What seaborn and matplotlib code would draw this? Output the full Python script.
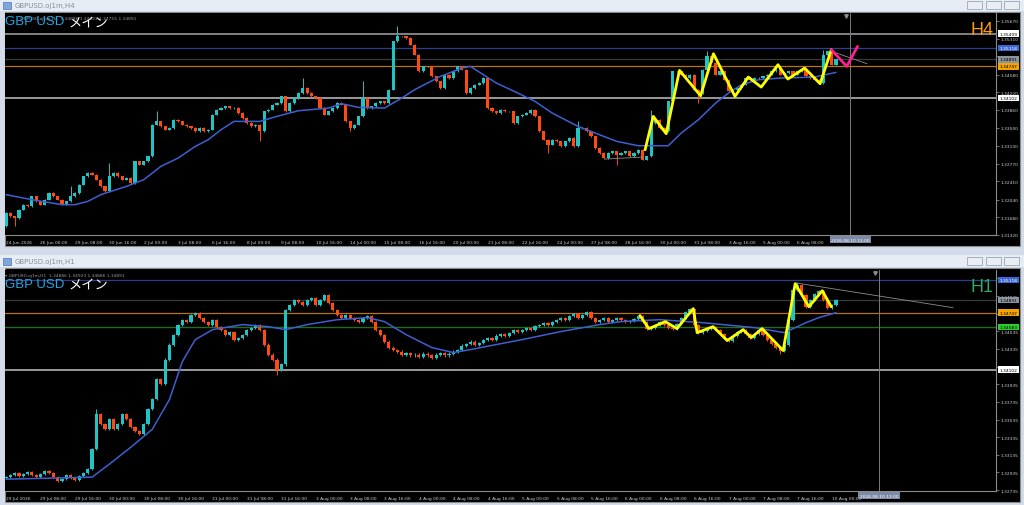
import matplotlib
matplotlib.use("Agg")
import matplotlib.pyplot as plt
import matplotlib.transforms as mtransforms
from matplotlib.patches import Rectangle
import numpy as np
import seaborn as sns

# ---------------- data: H4 panel ----------------
h4_first_open = 1.31495
h4_close = [
    1.31766, 1.31699, 1.31665, 1.31834, 1.31936, 1.31902, 1.32105, 1.32003, 1.31936, 1.32037,
    1.32173, 1.32105, 1.32037, 1.31936, 1.32003, 1.32105, 1.32173, 1.32342, 1.32511, 1.32579,
    1.32545, 1.32443, 1.32308, 1.32206, 1.32511, 1.32579, 1.32511, 1.32443, 1.32477, 1.32376,
    1.32816, 1.32748, 1.32816, 1.32917, 1.33560, 1.33628, 1.33527, 1.33459, 1.33493, 1.33662,
    1.33628, 1.33560, 1.33527, 1.33493, 1.33425, 1.33493, 1.33425, 1.33459, 1.33764, 1.33865,
    1.33899, 1.33933, 1.33899, 1.33899, 1.33797, 1.33696, 1.33594, 1.33527, 1.33560, 1.33425,
    1.33831, 1.33865, 1.33967, 1.34000, 1.34136, 1.33831, 1.34000, 1.34102, 1.34204, 1.34305,
    1.34204, 1.34136, 1.34102, 1.33899, 1.33764, 1.33831, 1.33899, 1.34000, 1.33967, 1.33628,
    1.33493, 1.33560, 1.33730, 1.34102, 1.33899, 1.33933, 1.34000, 1.34034, 1.34000, 1.34271,
    1.35253, 1.35354, 1.35354, 1.35321, 1.35185, 1.34982, 1.34644, 1.34745, 1.34745, 1.34542,
    1.34440, 1.34305, 1.34576, 1.34508, 1.34644, 1.34745, 1.34677, 1.34204, 1.34305, 1.34373,
    1.34407, 1.34508, 1.33899, 1.33831, 1.33797, 1.33865, 1.33831, 1.33831, 1.33594, 1.33730,
    1.33764, 1.33797, 1.33865, 1.33730, 1.33425, 1.33256, 1.33154, 1.33256, 1.33222, 1.33120,
    1.33222, 1.33290, 1.33120, 1.33493, 1.33493, 1.33425, 1.33323, 1.33086, 1.32985, 1.32883,
    1.32985, 1.33019, 1.32951, 1.32985, 1.33019, 1.32917, 1.32985, 1.33053, 1.32850, 1.32917,
    1.33594, 1.33662, 1.33493, 1.33425, 1.34034, 1.34644, 1.34644, 1.34576, 1.34508, 1.34576,
    1.34271, 1.34204, 1.34677, 1.34948, 1.34813, 1.34576, 1.34644, 1.34474, 1.34237, 1.34271,
    1.34305, 1.34373, 1.34508, 1.34474, 1.34508, 1.34508, 1.34542, 1.34576, 1.34644, 1.34711,
    1.34576, 1.34610, 1.34644, 1.34576, 1.34644, 1.34677, 1.34542, 1.34508, 1.34474, 1.34407,
    1.34982, 1.35050, 1.34779, 1.34891,
]
h4_high = {15: 1.32308, 24: 1.32782, 35: 1.33831, 69: 1.34508, 83: 1.34440, 91: 1.35558,
           133: 1.33628, 150: 1.33865, 163: 1.35050, 190: 1.35084}
h4_low = {0: 1.31495, 2: 1.31495, 59: 1.33222, 80: 1.33425, 126: 1.32985, 142: 1.32748, 161: 1.34000}

h4_ma_x = [0, 6, 13, 16, 19, 22, 28, 32, 36, 40, 44, 47, 50, 53, 59, 63, 68, 75, 78, 82, 88, 92, 95,
           98, 101, 102, 106, 108, 114, 119, 123, 127, 133, 137, 142, 147, 154, 157, 161, 165, 168,
           171, 175, 180, 188, 193]
h4_ma_y = [1.32139, 1.32037, 1.31936, 1.31936, 1.32003, 1.32139, 1.32308, 1.32443, 1.32714, 1.32883,
           1.33120, 1.33256, 1.33459, 1.33628, 1.33628, 1.33730, 1.33845, 1.33899, 1.33987, 1.33912,
           1.33899, 1.34102, 1.34271, 1.34407, 1.34542, 1.34576, 1.34711, 1.34745, 1.34407, 1.34204,
           1.34034, 1.33797, 1.33527, 1.33391, 1.33222, 1.33134, 1.33134, 1.33391, 1.33662, 1.34000,
           1.34204, 1.34373, 1.34474, 1.34508, 1.34529, 1.34623]

h4_zig_x = [148.6, 150.5, 153.5, 156.6, 161.5, 164.5, 169.5, 172.6, 175.6, 179.5, 181.8, 185.7, 189.3, 191.9]
h4_zig_y = [1.33053, 1.33730, 1.33378, 1.34664, 1.34149, 1.35002, 1.34136, 1.34529, 1.34325, 1.34779,
            1.34488, 1.34711, 1.34393, 1.35084]
h4_pink_x = [191.9, 195.5, 198.0]
h4_pink_y = [1.35084, 1.34745, 1.35151]
h4_trend = [([192.0, 200.2], [1.35050, 1.34799]), ([139.3, 148.2], [1.32863, 1.32904])]

h4_levels = [1.35409, 1.35118, 1.34891, 1.34747, 1.34102]
h4_yticks = [1.31320, 1.31680, 1.32040, 1.32410, 1.32770, 1.33130, 1.33500, 1.33860, 1.34220,
             1.34580, 1.34950, 1.35310, 1.35670]
h4_xlabels = ["24 Jun 2026", "26 Jun 00:00", "29 Jun 08:00", "30 Jun 16:00", "2 Jul 00:00",
              "3 Jul 08:00", "6 Jul 16:00", "8 Jul 00:00", "9 Jul 08:00", "10 Jul 16:00",
              "14 Jul 00:00", "15 Jul 08:00", "16 Jul 16:00", "20 Jul 00:00", "21 Jul 08:00",
              "22 Jul 16:00", "24 Jul 00:00", "27 Jul 08:00", "28 Jul 16:00", "30 Jul 00:00",
              "31 Jul 08:00", "3 Aug 16:00", "5 Aug 00:00", "6 Aug 08:00"]

# ---------------- data: H1 panel ----------------
h1_first_open = 1.32871
h1_close = [
    1.32882, 1.32905, 1.32927, 1.32893, 1.32916, 1.32938, 1.32905, 1.32882, 1.32916, 1.32950,
    1.32927, 1.32882, 1.32837, 1.32859, 1.32905, 1.32871, 1.32848, 1.32893, 1.32927, 1.32972,
    1.33198, 1.33594, 1.33481, 1.33424, 1.33537, 1.33424, 1.33481, 1.33594, 1.33537, 1.33447,
    1.33402, 1.33368, 1.33481, 1.33650, 1.33763, 1.33989, 1.33933, 1.34215, 1.34385, 1.34498,
    1.34611, 1.34667, 1.34645, 1.34724, 1.34746, 1.34690, 1.34645, 1.34611, 1.34667, 1.34588,
    1.34554, 1.34498, 1.34532, 1.34441, 1.34464, 1.34498, 1.34554, 1.34577, 1.34611, 1.34554,
    1.34385, 1.34272, 1.34215, 1.34102, 1.34159, 1.34780, 1.34837, 1.34893, 1.34871, 1.34837,
    1.34893, 1.34916, 1.34837, 1.34893, 1.34950, 1.34859, 1.34780, 1.34724, 1.34690, 1.34724,
    1.34690, 1.34667, 1.34645, 1.34690, 1.34713, 1.34645, 1.34554, 1.34498, 1.34419, 1.34351,
    1.34328, 1.34306, 1.34272, 1.34294, 1.34261, 1.34272, 1.34249, 1.34283, 1.34261, 1.34238,
    1.34272, 1.34294, 1.34261, 1.34283, 1.34306, 1.34328, 1.34374, 1.34396, 1.34419, 1.34385,
    1.34407, 1.34441, 1.34464, 1.34441, 1.34487, 1.34509, 1.34487, 1.34520, 1.34554, 1.34532,
    1.34554, 1.34577, 1.34554, 1.34600, 1.34611, 1.34633, 1.34611, 1.34645, 1.34667, 1.34690,
    1.34667, 1.34713, 1.34735, 1.34690, 1.34724, 1.34758, 1.34690, 1.34645, 1.34667, 1.34690,
    1.34645, 1.34667, 1.34690, 1.34667, 1.34645, 1.34656, 1.34679, 1.34713, 1.34645, 1.34566,
    1.34577, 1.34611, 1.34645, 1.34611, 1.34577, 1.34566, 1.34622, 1.34690, 1.34758, 1.34792,
    1.34611, 1.34520, 1.34543, 1.34566, 1.34588, 1.34554, 1.34509, 1.34464, 1.34430, 1.34487,
    1.34532, 1.34554, 1.34509, 1.34464, 1.34509, 1.34554, 1.34498, 1.34441, 1.34396, 1.34351,
    1.34317, 1.34385, 1.34667, 1.35006, 1.35063, 1.34950, 1.34814, 1.34893, 1.34961, 1.34995,
    1.34893, 1.34803, 1.34837, 1.34891,
]
h1_high = {21: 1.33650, 184: 1.35097}
h1_low = {63: 1.34045, 180: 1.34283}

h1_ma_x = [0, 20, 24, 29, 34, 38, 41, 44, 48, 55, 61, 65, 70, 77, 84, 88, 93, 99, 104, 108, 114,
           120, 129, 138, 143, 152, 162, 174, 181, 186, 189, 193]
h1_ma_y = [1.32859, 1.32882, 1.33029, 1.33221, 1.33424, 1.33763, 1.34193, 1.34441, 1.34554, 1.34611,
           1.34588, 1.34554, 1.34611, 1.34667, 1.34690, 1.34645, 1.34498, 1.34351, 1.34294, 1.34328,
           1.34385, 1.34441, 1.34532, 1.34611, 1.34645, 1.34667, 1.34633, 1.34577, 1.34520, 1.34633,
           1.34690, 1.34746]

h1_zig_x = [147.4, 149.5, 153.3, 156.0, 159.8, 160.7, 164.4, 167.7, 171.4, 173.3, 175.8, 180.7,
            183.5, 186.7, 189.8, 191.9]
h1_zig_y = [1.34713, 1.34566, 1.34645, 1.34566, 1.34792, 1.34520, 1.34588, 1.34430, 1.34554,
            1.34464, 1.34566, 1.34317, 1.35074, 1.34814, 1.34995, 1.34814]
h1_trend = [([183.5, 220.2], [1.35085, 1.34803])]

h1_levels = [1.35118, 1.34891, 1.34747, 1.34583, 1.34102]
h1_yticks = [1.32735, 1.32935, 1.33135, 1.33335, 1.33535, 1.33735, 1.33935, 1.34135, 1.34335,
             1.34535, 1.34735, 1.34935, 1.35135]
h1_xlabels = ["29 Jul 2026", "29 Jul 08:00", "29 Jul 16:00", "30 Jul 00:00", "30 Jul 08:00",
              "30 Jul 16:00", "31 Jul 00:00", "31 Jul 08:00", "31 Jul 16:00", "3 Aug 00:00",
              "3 Aug 08:00", "3 Aug 16:00", "4 Aug 00:00", "4 Aug 08:00", "4 Aug 16:00",
              "5 Aug 00:00", "5 Aug 08:00", "5 Aug 16:00", "6 Aug 00:00", "6 Aug 08:00",
              "6 Aug 16:00", "7 Aug 00:00", "7 Aug 08:00", "7 Aug 16:00", "10 Aug 00:00"]

# ---------------- style ----------------
UP = "#1fc4c4"
DOWN = "#ff4a12"
MA_COL = "#3f5fd0"
WICK = 0.00012
AX_FS = 3.2
LEVEL_STYLE = {
    1.35409: ("#8c8c8c", 1.3, "#ffffff", "black"),
    1.35118: ("#2c3f8c", 0.9, "#3a66d6", "white"),
    1.34891: ("#3a3a3a", 0.9, "#8a949e", "black"),
    1.34747: ("#b8760a", 0.9, "#f4a300", "black"),
    1.34583: ("#1f6b1f", 1.0, "#2ecc2e", "black"),
    1.34102: ("#9a9a9a", 1.4, "#ffffff", "black"),
}

W, H = 1024, 506
sns.set_style("dark")
plt.rcParams["font.family"] = ["DejaVu Sans", "Noto Sans CJK JP"]

fig = plt.figure(figsize=(W / 100, H / 100), dpi=100, facecolor="#d3dce8")


def box(x0, y0, x1, y1, **kw):
    fig.add_artist(Rectangle((x0 / W, 1 - y1 / H), (x1 - x0) / W, (y1 - y0) / H,
                             transform=fig.transFigure, zorder=-1, **kw))


def ftext(x, y, s, **kw):
    fig.text(x / W, 1 - y / H, s, **kw)


def window_chrome(y_title, y_black0, y_black1, title):
    box(0, y_title - 6, W, y_title + 6, facecolor="#e6edf5", edgecolor="none")
    box(3, y_title - 3, 11, y_title + 4, facecolor="#7fa6d6", edgecolor="#4d76b0", lw=0.5)
    ftext(15, y_title, title, fontsize=5, color="#8a8f96", va="center")
    for bx in (967, 986, 1004):
        box(bx, y_title - 4, bx + 15, y_title + 4, facecolor="#e9eef4", edgecolor="#9aa6b4", lw=0.6)
    box(5, y_black0, 1020, y_black1, facecolor="black", edgecolor="#8a8a8a", lw=0.8)


def draw_panel(ax, first_open, closes, highs_x, lows_x, ma_x, ma_y, levels, yticks, ylim,
               xlabels, vline_x, tf_label, tf_color, header, name_y):
    ax.set_facecolor("black")
    closes = np.asarray(closes)
    opens = np.r_[first_open, closes[:-1]]
    idx = np.arange(len(closes))
    top = np.maximum(opens, closes)
    bot = np.minimum(opens, closes)
    hi = top + WICK
    lo = bot - WICK
    for k, v in highs_x.items():
        hi[k] = max(hi[k], v)
    for k, v in lows_x.items():
        lo[k] = min(lo[k], v)
    cols = np.where(closes >= opens, UP, DOWN)

    for lv in levels:
        c, lw, _, _ = LEVEL_STYLE[lv]
        ax.axhline(lv, color=c, lw=lw, zorder=1)
    ax.axvline(vline_x, color="#7a7a7a", lw=0.7, zorder=1)

    ax.vlines(idx, lo, hi, colors=cols, lw=0.7, zorder=2)
    ax.bar(idx, np.maximum(top - bot, 0.00004), bottom=bot, width=0.74, color=cols, lw=0, zorder=3)
    sns.lineplot(x=ma_x, y=ma_y, ax=ax, color=MA_COL, lw=1.1, estimator=None, zorder=4)

    ax.set_xlim(-0.25, 230.2)
    ax.set_ylim(*ylim)
    ax.yaxis.tick_right()
    ax.set_yticks(yticks)
    ax.set_yticklabels([f"{v:.5f}" for v in yticks])
    ax.set_xticks(np.arange(len(xlabels)) * 8)
    ax.set_xticklabels(xlabels)
    for lab in ax.get_xticklabels():
        lab.set_ha("left")
    ax.tick_params(axis="both", colors="#9a9a9a", labelcolor="#cfcfcf", labelsize=AX_FS,
                   length=2.5, width=0.5, pad=1, direction="out")
    ax.grid(False)
    for side in ("left", "top"):
        ax.spines[side].set_visible(False)
    for side in ("right", "bottom"):
        ax.spines[side].set_color("#8a8a8a")
        ax.spines[side].set_linewidth(0.8)
    ax.set_xlabel("")
    ax.set_ylabel("")

    ytr = mtransforms.blended_transform_factory(ax.transAxes, ax.transData)
    for lv in levels:
        _, _, fc, tc = LEVEL_STYLE[lv]
        ax.text(1.0035, lv, f"{lv:.5f}", transform=ytr, fontsize=AX_FS, color=tc, va="center",
                ha="left", zorder=6, clip_on=False,
                bbox=dict(boxstyle="square,pad=0.3", fc=fc, ec="none"))
    xtr = mtransforms.blended_transform_factory(ax.transData, ax.transAxes)
    ax.text(vline_x, -0.012, "2026.08.10 12:00", transform=xtr, fontsize=AX_FS, color="white",
            ha="center", va="top", clip_on=False, zorder=6,
            bbox=dict(boxstyle="square,pad=0.3", fc="#7d8aa6", ec="none"))
    ax.plot([vline_x - 0.9], [0.985], marker="v", ms=2.5, color="#8a8a8a", transform=xtr)

    ax.text(0.0, 0.978, header, transform=ax.transAxes, fontsize=AX_FS, color="#9a9a9a",
            ha="left", va="center", zorder=6)
    ax.text(0.0, name_y, "GBP USD", transform=ax.transAxes, fontsize=9.5, color="#22a8e8",
            ha="left", va="top", zorder=7, family=["Liberation Sans", "DejaVu Sans"])
    ax.text(0.0645, name_y, "メイン", transform=ax.transAxes, fontsize=9.5, color="white",
            ha="left", va="top", zorder=7, family=["Noto Sans CJK JP", "DejaVu Sans"])
    ax.text(0.997, 0.965, tf_label, transform=ax.transAxes, fontsize=13, color=tf_color,
            ha="right", va="top", zorder=7, family=["Liberation Sans", "DejaVu Sans"])


# window frames
window_chrome(6, 13, 247, "GBPUSD.oj1m,H4")
window_chrome(262, 269, 503, "GBPUSD.oj1m,H1")

ax1 = fig.add_axes([5 / W, 1 - 236 / H, 991 / W, 222 / H])
draw_panel(ax1, h4_first_open, h4_close, h4_high, h4_low, h4_ma_x, h4_ma_y, h4_levels,
           h4_yticks, (1.3134, 1.3583), h4_xlabels, 196.3, "H4", "#ff9a00",
           "           GBPUSD.oj1m,H4  1.34886 1.34923 1.34755 1.34891", 0.99)
sns.lineplot(x=h4_zig_x, y=h4_zig_y, ax=ax1, color="#ffff00", lw=2.0, estimator=None, zorder=5)
sns.lineplot(x=h4_pink_x, y=h4_pink_y, ax=ax1, color="#ff1f8e", lw=2.0, estimator=None, zorder=5)
for tx, ty in h4_trend:
    ax1.plot(tx, ty, color="#8c8c8c", lw=0.6, zorder=4)

ax2 = fig.add_axes([5 / W, 1 - 492 / H, 991 / W, 221 / H])
draw_panel(ax2, h1_first_open, h1_close, h1_high, h1_low, h1_ma_x, h1_ma_y, h1_levels,
           h1_yticks, (1.32725, 1.3523), h1_xlabels, 203.0, "H1", "#2fa866",
           "▾ GBPUSD.oj1m,H1  1.34886 1.34923 1.34886 1.34891", 0.965)
sns.lineplot(x=h1_zig_x, y=h1_zig_y, ax=ax2, color="#ffff00", lw=2.0, estimator=None, zorder=5)
for tx, ty in h1_trend:
    ax2.plot(tx, ty, color="#8c8c8c", lw=0.6, zorder=4)

fig.savefig("out.png", dpi=100, facecolor=fig.get_facecolor())
